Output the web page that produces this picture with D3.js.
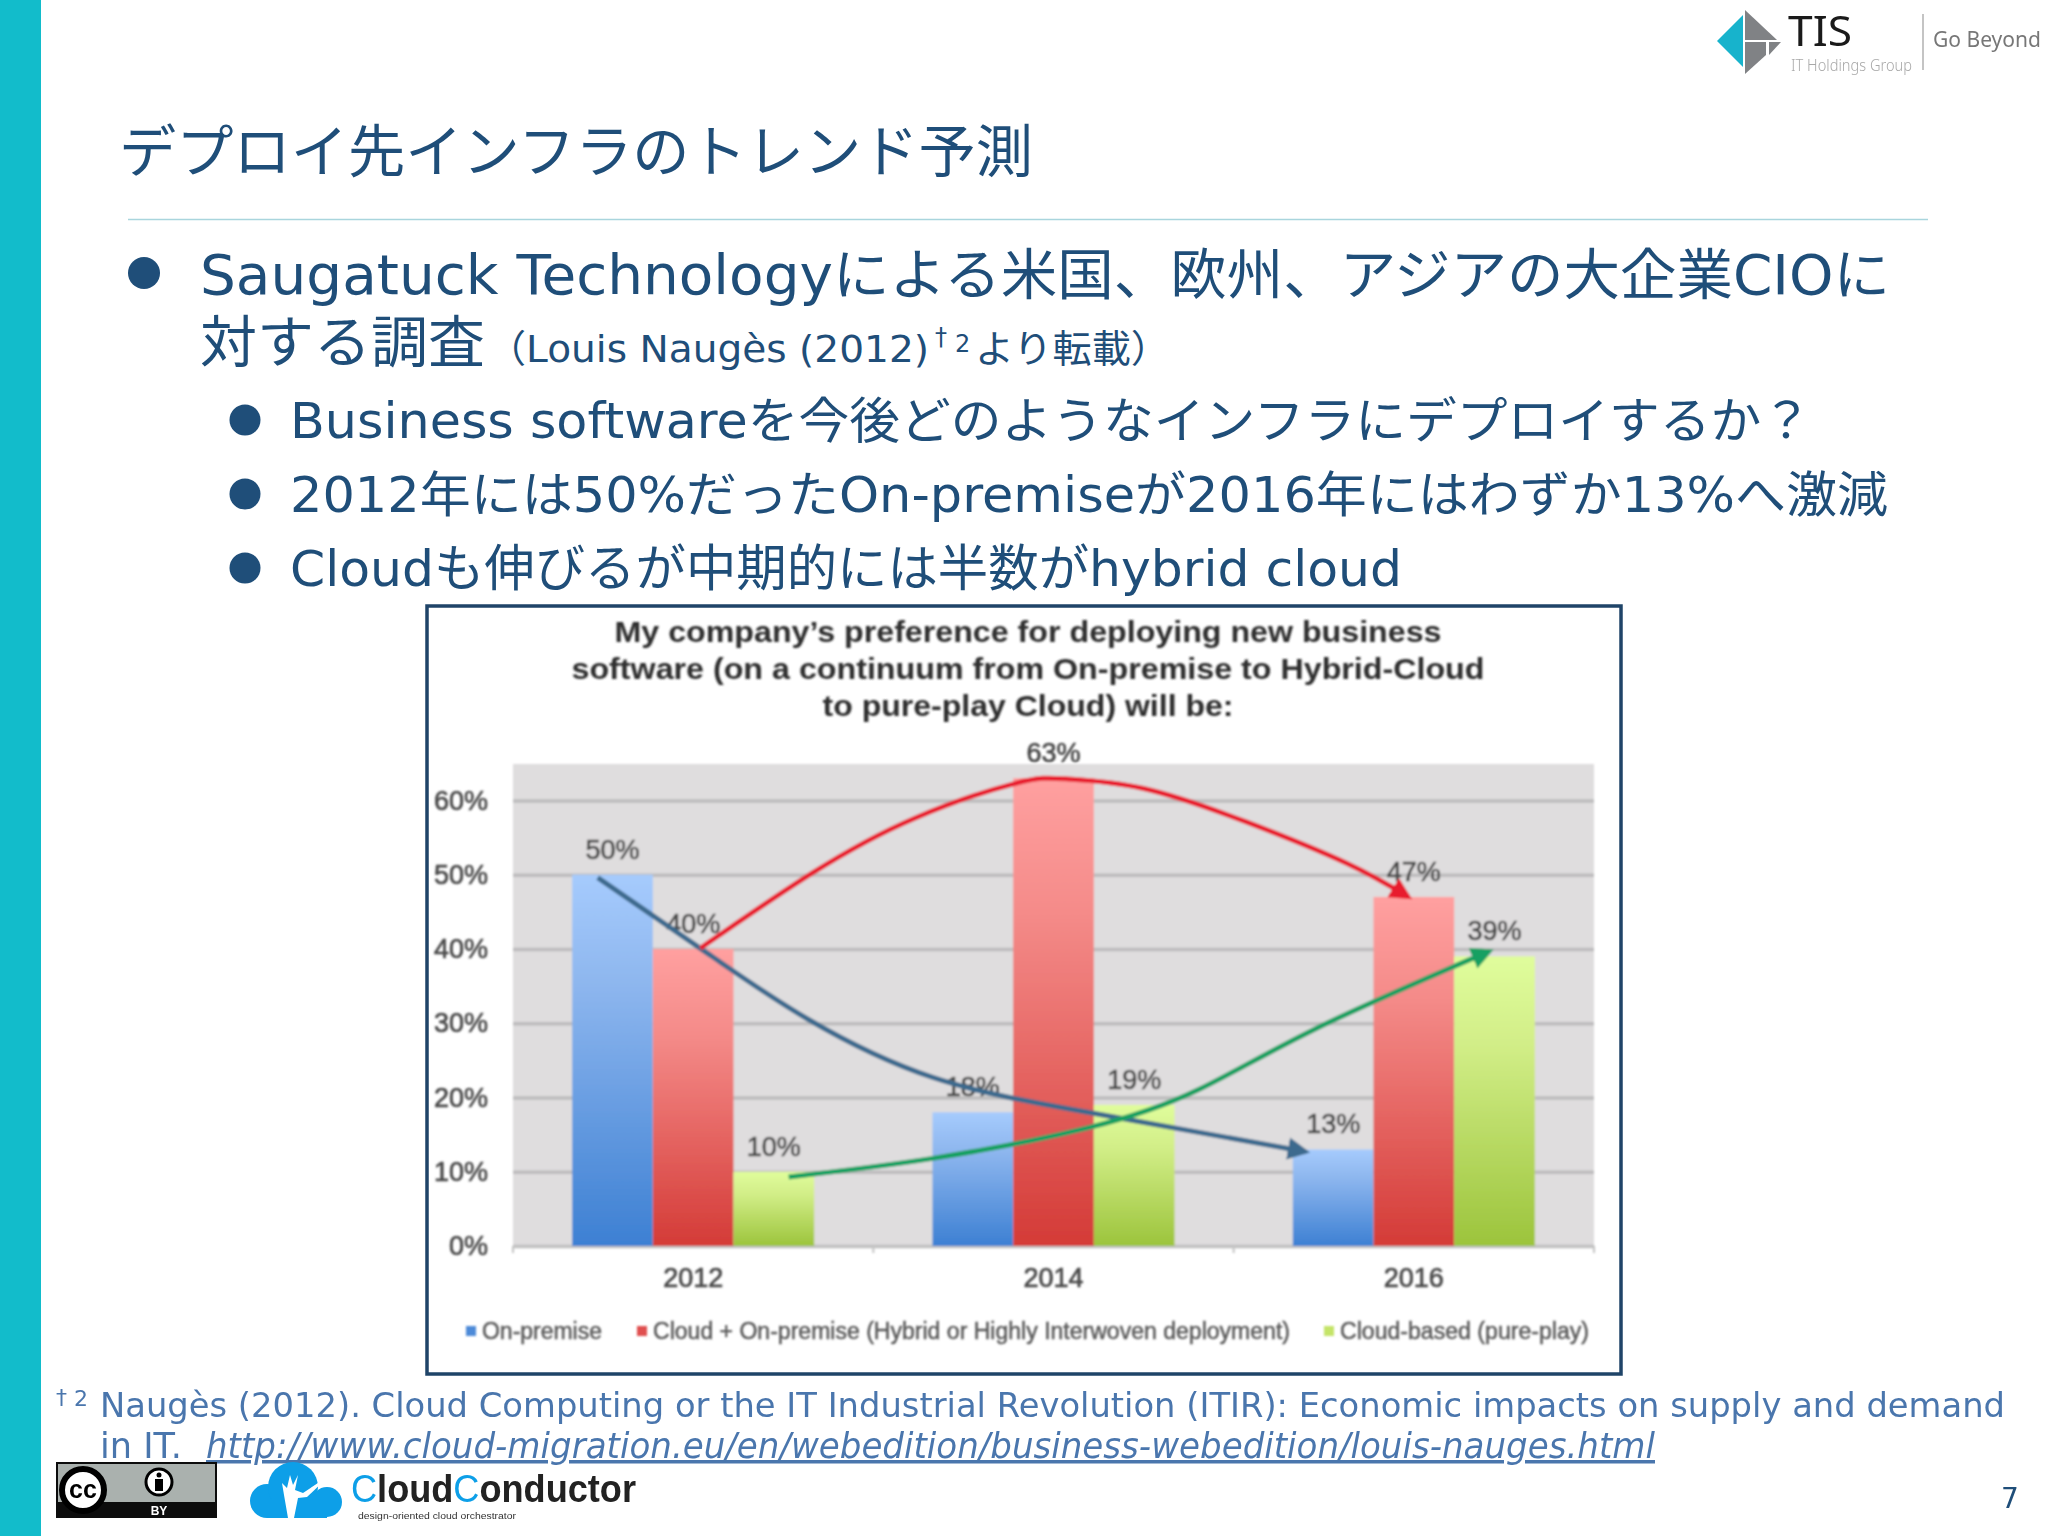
<!DOCTYPE html>
<html>
<head>
<meta charset="utf-8">
<script src="https://cdn.jsdelivr.net/npm/d3@7"></script>
<style>
  html, body { margin: 0; padding: 0; background: #fff; }
  svg { display: block; }
</style>
</head>
<body>
<div id="slide"></div>
<script>
// chart values
const categories = ['2012', '2014', '2016'];
const seriesNames = ['On-premise', 'Cloud + On-premise (Hybrid or Highly Interwoven deployment)', 'Cloud-based (pure-play)'];
const onPremise = [50, 18, 13];
const hybrid = [40, 63, 47];
const cloudBased = [10, 19, 39];
const yTicks = [0, 10, 20, 30, 40, 50, 60];

// trend arrows, [year, percent]
const onPremiseArrow = [[2011.47, 49.6], [2012.08, 39.4], [2012.64, 30.5], [2013.33, 22.7], [2014.19, 18], [2015.4, 12.7]];
const hybridArrow = [[2012.04, 40.1], [2012.66, 50.2], [2013.23, 57.6], [2013.79, 62.3], [2014.07, 62.9], [2014.5, 61.6], [2015.07, 57.1], [2015.63, 51.5], [2015.97, 47]];
const cloudArrow = [[2012.53, 9.3], [2013.33, 11.8], [2014.19, 15.9], [2014.8, 21], [2015.45, 29.2], [2016.42, 39.7]];

const seriesValues = [onPremise, hybrid, cloudBased];
const barStops = [['#a6cbfd', '#8db6ee', '#3d80d3'], ['#ffa0a0', '#f48a88', '#d43b37'], ['#e0fd9c', '#d2ee88', '#9cc43c']];
const arrowColors = ['#3d6b8e', '#e81f2e', '#14a062'];
const legendColors = ['#4d8ad8', '#e05050', '#c4e468'];

const navy = '#1f4e79';
const jp = '"DejaVu Sans", "Noto Sans CJK JP", sans-serif';
const arial = '"Liberation Sans", Arial, sans-serif';

const svg = d3.select('#slide').append('svg').attr('width', 2048).attr('height', 1536);
const defs = svg.append('defs');

function txt(parent, x, y, str, size, len, opts) {
  opts = opts || {};
  const t = parent.append('text')
    .attr('x', x).attr('y', y)
    .attr('font-family', opts.family || jp)
    .attr('font-size', size)
    .attr('font-weight', opts.weight || 400)
    .attr('font-style', opts.style || 'normal')
    .attr('fill', opts.fill || navy)
    .attr('text-anchor', opts.anchor || 'start')
    .text(str);
  if (opts.underline) t.attr('text-decoration', 'underline');
  if (len) t.attr('textLength', len).attr('lengthAdjust', 'spacingAndGlyphs');
  return t;
}

// slide furniture
svg.append('rect').attr('x', 0).attr('y', 0).attr('width', 41).attr('height', 1536).attr('fill', '#12bccb');
txt(svg, 119, 172, 'デプロイ先インフラのトレンド予測', 57, 914, {family: '"Noto Sans CJK JP", sans-serif'});
svg.append('line').attr('x1', 128).attr('x2', 1928).attr('y1', 219.5).attr('y2', 219.5).attr('stroke', '#a9d5dd').attr('stroke-width', 1.5);

// bullets
[[144, 273, 16], [245, 420, 15.5], [245, 494, 15.5], [245, 568, 15.5]].forEach(d => {
  svg.append('circle').attr('cx', d[0]).attr('cy', d[1]).attr('r', d[2]).attr('fill', navy);
});
txt(svg, 200, 294, 'Saugatuck Technologyによる米国、欧州、アジアの大企業CIOに', 55, 1690);
txt(svg, 200, 362, '対する調査', 56, 285);
txt(svg, 487, 362, '（Louis Naugès (2012)', 38, 442);
txt(svg, 935, 345, '†', 24, 0);
txt(svg, 955, 352, '2', 24, 0);
txt(svg, 975, 362, 'より転載）', 38, 195);
txt(svg, 290, 438, 'Business softwareを今後どのようなインフラにデプロイするか？', 49, 1522);
txt(svg, 290, 512, '2012年には50%だったOn-premiseが2016年にはわずか13%へ激減', 49, 1598);
txt(svg, 290, 586, 'Cloudも伸びるが中期的には半数がhybrid cloud', 50, 1112);

// chart image area, slightly soft like the reference
defs.append('filter').attr('id', 'soft').attr('x', '-2%').attr('y', '-2%').attr('width', '104%').attr('height', '104%')
  .append('feGaussianBlur').attr('stdDeviation', 1.1);

svg.append('rect').attr('x', 427).attr('y', 606).attr('width', 1194).attr('height', 768)
  .attr('fill', '#fff').attr('stroke', '#1f4468').attr('stroke-width', 3.5);

const chart = svg.append('g').attr('filter', 'url(#soft)');
const plot = {left: 513, right: 1594, top: 764, bottom: 1246};

const x0 = d3.scaleBand().domain(categories).range([plot.left, plot.right]);
const x1 = d3.scaleBand().domain(d3.range(3)).range([0, x0.bandwidth()]).paddingOuter(0.733);
const y = d3.scaleLinear().domain([0, 64.9]).range([plot.bottom, plot.top]);
const xYear = d3.scaleLinear().domain([2012, 2016]).range([x0('2012') + x0.bandwidth() / 2, x0('2016') + x0.bandwidth() / 2]);

const chartTitle = ['My company\u2019s preference for deploying new business', 'software (on a continuum from On-premise to Hybrid-Cloud', 'to pure-play Cloud) will be:'];
const titleLen = [827, 913, 411];
chartTitle.forEach((s, i) => {
  txt(chart, 1028, 642 + i * 37, s, 30, titleLen[i], {family: arial, weight: 700, anchor: 'middle', fill: '#2e2e2e'});
});

chart.append('rect').attr('x', plot.left).attr('y', plot.top)
  .attr('width', plot.right - plot.left).attr('height', plot.bottom - plot.top).attr('fill', '#dfddde');

// y axis and gridlines
const yAxis = chart.append('g').attr('transform', `translate(${plot.left},0)`)
  .call(d3.axisLeft(y).tickValues(yTicks).tickFormat(d => d + '%').tickSize(-(plot.right - plot.left)).tickPadding(25));
yAxis.select('.domain').remove();
yAxis.selectAll('line').attr('stroke', '#bdbcbd').attr('stroke-width', 3.5);
yAxis.selectAll('text').attr('font-family', arial).attr('font-size', 27).attr('fill', '#4a4a4a').attr('stroke', '#4a4a4a').attr('stroke-width', 0.7);

// x axis
const xAxis = chart.append('g').attr('transform', `translate(0,${plot.bottom})`)
  .call(d3.axisBottom(x0).tickSize(0).tickPadding(22));
xAxis.select('.domain').attr('stroke', '#c4c4c4').attr('stroke-width', 2);
xAxis.selectAll('text').attr('font-family', arial).attr('font-size', 27).attr('fill', '#4a4a4a').attr('stroke', '#4a4a4a').attr('stroke-width', 0.7);
chart.append('g').selectAll('line').data(d3.range(4)).enter().append('line')
  .attr('x1', d => plot.left + d * x0.step()).attr('x2', d => plot.left + d * x0.step())
  .attr('y1', plot.bottom).attr('y2', plot.bottom + 7).attr('stroke', '#c4c4c4').attr('stroke-width', 2);

// bars
seriesValues.forEach((vals, s) => {
  const grad = defs.append('linearGradient').attr('id', 'bar' + s).attr('x1', 0).attr('x2', 0).attr('y1', 0).attr('y2', 1);
  grad.append('stop').attr('offset', '0%').attr('stop-color', barStops[s][0]);
  grad.append('stop').attr('offset', '30%').attr('stop-color', barStops[s][1]);
  grad.append('stop').attr('offset', '100%').attr('stop-color', barStops[s][2]);

  chart.append('g').selectAll('rect').data(vals).enter().append('rect')
    .attr('x', (d, i) => x0(categories[i]) + x1(s))
    .attr('width', x1.bandwidth())
    .attr('y', d => y(d))
    .attr('height', d => plot.bottom - y(d))
    .attr('fill', `url(#bar${s})`);
});

// value labels
seriesValues.forEach((vals, s) => {
  chart.append('g').selectAll('text').data(vals).enter().append('text')
    .attr('x', (d, i) => x0(categories[i]) + x1(s) + x1.bandwidth() / 2)
    .attr('y', d => y(d) - 16)
    .attr('text-anchor', 'middle')
    .attr('font-family', arial).attr('font-size', 27)
    .attr('fill', '#4a4a4a').attr('stroke', '#4a4a4a').attr('stroke-width', 0.7)
    .text(d => d + '%');
});

// trend arrows
const arrowLine = d3.line().x(d => xYear(d[0])).y(d => y(d[1])).curve(d3.curveNatural);
[onPremiseArrow, hybridArrow, cloudArrow].forEach((pts, i) => {
  defs.append('marker').attr('id', 'head' + i)
    .attr('viewBox', '0 0 10 10').attr('refX', 8).attr('refY', 5)
    .attr('markerWidth', 4.5).attr('markerHeight', 4.8).attr('orient', 'auto')
    .append('path').attr('d', 'M0,0L10,5L0,10Z').attr('fill', arrowColors[i]);
  chart.append('path').datum(pts)
    .attr('d', arrowLine)
    .attr('fill', 'none')
    .attr('stroke', arrowColors[i])
    .attr('stroke-width', 5)
    .attr('marker-end', `url(#head${i})`);
});

// legend
const legendX = [466, 637, 1324];
const legendLen = [120, 637, 249];
seriesNames.forEach((name, i) => {
  chart.append('rect').attr('x', legendX[i]).attr('y', 1326).attr('width', 10).attr('height', 10).attr('fill', legendColors[i]);
  txt(chart, legendX[i] + 16, 1339, name, 23, legendLen[i], {family: arial, fill: '#5a5a5a'}).attr('stroke', '#5a5a5a').attr('stroke-width', 0.5);
});

// footnote
const noteBlue = '#4a76ad';
txt(svg, 56, 1405, '†', 22, 0, {fill: noteBlue});
txt(svg, 74, 1406, '2', 22, 0, {fill: noteBlue});
txt(svg, 100, 1417, 'Naugès (2012). Cloud Computing or the IT Industrial Revolution (ITIR): Economic impacts on supply and demand', 33.5, 1905, {fill: noteBlue});
txt(svg, 100, 1458, 'in IT.', 35, 82, {fill: noteBlue});
txt(svg, 206, 1458, 'http://www.cloud-migration.eu/en/webedition/business-webedition/louis-nauges.html', 35, 1449, {fill: noteBlue, style: 'italic', underline: true});

// CC badge
const cc = svg.append('g');
cc.append('rect').attr('x', 56).attr('y', 1462).attr('width', 161).attr('height', 56).attr('fill', '#0c0c0c');
cc.append('rect').attr('x', 58).attr('y', 1464).attr('width', 157).attr('height', 38).attr('fill', '#aab1ae');
cc.append('circle').attr('cx', 83).attr('cy', 1490).attr('r', 21).attr('fill', '#fff').attr('stroke', '#000').attr('stroke-width', 6);
txt(cc, 83, 1498, 'cc', 25, 0, {family: arial, weight: 700, anchor: 'middle', fill: '#000'});
cc.append('circle').attr('cx', 159).attr('cy', 1482).attr('r', 13).attr('fill', '#fff').attr('stroke', '#000').attr('stroke-width', 3);
cc.append('circle').attr('cx', 159).attr('cy', 1475).attr('r', 2.5).attr('fill', '#000');
cc.append('rect').attr('x', 155).attr('y', 1479).attr('width', 8).attr('height', 12).attr('fill', '#000');
txt(cc, 159, 1515, 'BY', 12, 0, {family: arial, weight: 700, anchor: 'middle', fill: '#fff'});

// CloudConductor logo
const logo = svg.append('g').attr('fill', '#0d9fe8');
[[267, 1501, 17], [293, 1487, 25], [327, 1502, 15]].forEach(c => {
  logo.append('circle').attr('cx', c[0]).attr('cy', c[1]).attr('r', c[2]);
});
logo.append('rect').attr('x', 267).attr('y', 1500).attr('width', 60).attr('height', 18);
svg.append('path').attr('fill', '#fff')
  .attr('d', 'M288,1518L284,1495L282,1483L287,1488L290,1475L293,1485L298,1475L295,1490L303,1493L330,1475L307,1497L298,1498L294,1518Z');
const brand = txt(svg, 351, 1502, '', 38, 285, {family: arial, fill: '#222', weight: 700});
brand.append('tspan').attr('fill', '#0d9fe8').attr('font-weight', 400).text('C');
brand.append('tspan').text('loud');
brand.append('tspan').attr('fill', '#0d9fe8').attr('font-weight', 400).text('C');
brand.append('tspan').text('onductor');
txt(svg, 358, 1519, 'design-oriented cloud orchestrator', 9, 158, {family: arial, fill: '#333'});

txt(svg, 2001, 1508, '7', 28, 0);

// TIS logo
const tis = svg.append('g');
tis.append('path').attr('d', 'M1717,41L1743,15L1743,67Z').attr('fill', '#17b3cc');
tis.append('path').attr('d', 'M1745,10L1777,40L1745,40Z').attr('fill', '#808285');
tis.append('path').attr('d', 'M1745,42L1766,42L1766,55L1745,74Z').attr('fill', '#808285');
tis.append('path').attr('d', 'M1769,42L1781,42L1769,55Z').attr('fill', '#808285');
txt(tis, 1788, 46, 'TIS', 42, 64, {family: '"Noto Sans", sans-serif', fill: '#1a1a1a', weight: 400});
txt(tis, 1791, 71, 'IT Holdings Group', 16, 121, {family: '"Noto Sans", sans-serif', fill: '#a8a8a8', weight: 300});
tis.append('line').attr('x1', 1923).attr('x2', 1923).attr('y1', 14).attr('y2', 70).attr('stroke', '#b0b0b0').attr('stroke-width', 1.5);
txt(tis, 1933, 47, 'Go Beyond', 22, 108, {family: '"Noto Sans", sans-serif', fill: '#777'});
</script>
</body>
</html>
